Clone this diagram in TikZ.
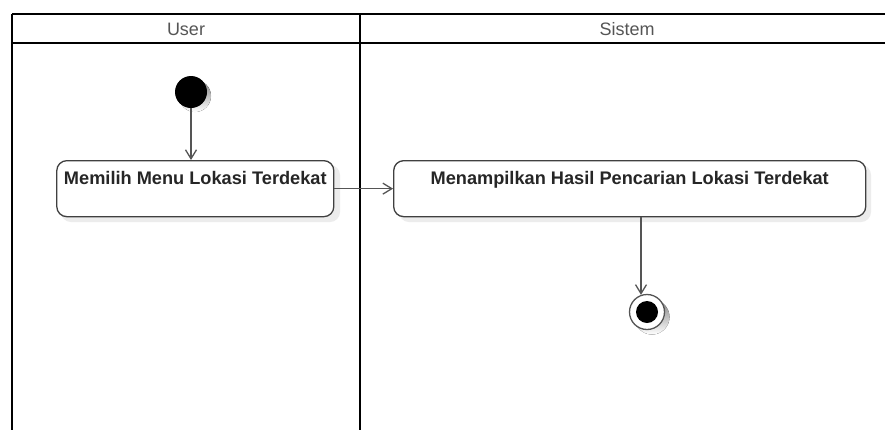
\documentclass[tikz,border=0pt]{standalone}
\usepackage{fontspec}
\setmainfont{Liberation Sans}
\usetikzlibrary{arrows.meta,calc}
\definecolor{edge}{HTML}{404040}
\definecolor{arrowc}{HTML}{555555}
\definecolor{headc}{HTML}{555555}
\definecolor{shade}{HTML}{ECECEC}
\begin{document}
\begin{tikzpicture}[x=1pt,y=-1pt,
  lane/.style={line width=2pt,black},
  headtext/.style={font=\fontsize{18}{21}\selectfont,text=headc,inner sep=0pt},
  actbox/.style={draw=edge,line width=1.3pt,fill=white,rounded corners=10pt,
    inner sep=0pt,text height=24pt,text depth=32pt,
    font=\bfseries\fontsize{18.2}{21}\selectfont,text=black!85},
  shadowbox/.style={fill=shade,rounded corners=10pt},
  startdot/.style={circle,fill=black,inner sep=0pt,minimum size=32pt},
  enddot/.style={circle,draw=arrowc,line width=1.3pt,fill=white,inner sep=0pt,minimum size=35pt},
  flow/.style={draw=arrowc,line width=1.3pt,-{Straight Barb[length=9pt,width=11pt,line width=1.3pt]}}
]
\useasboundingbox (0,0) rectangle (885,429);
\fill[white] (0,0) rectangle (885,429);
% swimlanes
\draw[lane] (12,14) -- (895,14);
\draw[lane] (12,43) -- (895,43);
\draw[lane] (12,14) -- (12,435);
\draw[lane] (360,14) -- (360,435);
\node[headtext] (huser) at (186,29) {User};
\node[headtext] (hsys) at (627,29) {Sistem};
% shadows
\fill[shadowbox] (61,165) rectangle (340,222);
\fill[shadowbox] (399,165) rectangle (871,222);
\fill[shade] (195,96) circle (16pt);
\fill[shade] (652,317) circle (17.5pt);
% nodes
\node[startdot] (start) at (191,92) {};
\node[actbox,minimum width=277pt,anchor=north] (b1) at (195.3,160) {Memilih Menu Lokasi Terdekat};
\node[actbox,minimum width=472pt,anchor=north] (b2) at (629.7,160) {Menampilkan Hasil Pencarian Lokasi Terdekat};
\node[enddot] (end) at (647,312) {};
\fill[black] (end.center) circle (11pt);
\coordinate (ex) at (641,0);
% flows
\draw[flow] (start) -- (start |- b1.north);
\draw[flow] (b1.east) -- (b2.west);
\draw[flow] (b2.south -| ex) -- ($(end.north -| ex)+(0,1)$);
\end{tikzpicture}
\end{document}
